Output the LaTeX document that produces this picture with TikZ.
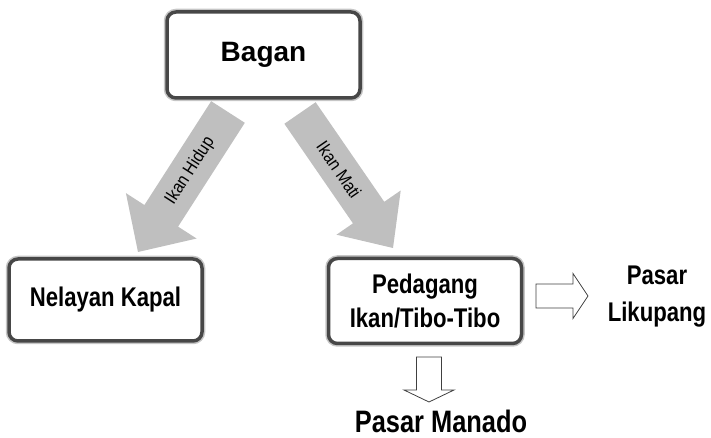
\documentclass[tikz,border=0pt]{standalone}
\usepackage{fontspec}
\setmainfont{Liberation Sans}
\newfontfamily\narrowfont[FakeStretch=0.82]{Liberation Sans}
\newfontfamily\labelfont[FakeStretch=0.88]{Liberation Sans}
\usetikzlibrary{calc}

\tikzset{x=1pt, y=1pt}
\tikzset{
  box/.style={draw=black!72, line width=3.5pt, rounded corners=9pt, fill=white,
    preaction={draw=gray!45, line width=6.5pt},
    minimum width=193pt, minimum height=82pt, inner sep=0pt, align=center,
    font=\narrowfont\bfseries\fontsize{27}{34}\selectfont},
  market/.style={align=center, inner sep=0pt,
    font=\narrowfont\bfseries\fontsize{27}{37}\selectfont},
  bigarrow/.style={fill=black!25},
  smallarrow/.style={draw=black!75, line width=0.8pt, fill=white},
  arrowlabel/.style={inner sep=0pt, font=\labelfont\fontsize{18}{20}\selectfont}
}

% block arrow: [style]{tail}{tip}{shaft}{head width}{head length}
\newcommand{\blockarrow}[6][]{%
  \path[#1] let \p1=($(#3)-(#2)$), \n1={atan2(\y1,\x1)}, \n2={veclen(\x1,\y1)} in
    ($(#2)+(\n1+90:#4/2)$) -- ++(\n1:\n2-#6) -- ++(\n1+90:#5/2-#4/2) -- (#3)
    -- ($(#3)+(\n1+180:#6)+(\n1-90:#5/2)$) -- ++(\n1+90:#5/2-#4/2)
    -- ++(\n1+180:\n2-#6) -- cycle;
}

\begin{document}
\begin{tikzpicture}
\useasboundingbox (0,0) rectangle (711,438);
% boxes
\node[box, minimum height=86pt, font=\bfseries\fontsize{28}{34}\selectfont] (bagan) at (263.5,383) {Bagan};
\node[box] (nelayan) at (105.5,138) {Nelayan Kapal};
\node[box, minimum height=85pt] (pedagang) at (425,137) {Pedagang\\Ikan/Tibo-Tibo};
\node[market] (likupang) at (657,141.5) {Pasar\\Likupang};
\node[market, anchor=base, font=\narrowfont\bfseries\fontsize{31}{37}\selectfont] (manado) at (441,5) {Pasar Manado};
% connectors
\coordinate (hidupTail) at (228,326);
\coordinate (hidupTip) at (138,186);
\coordinate (matiTail) at (300,325);
\coordinate (matiTip) at (393,190);
\coordinate (likuTail) at (536,142);
\coordinate (likuTip) at (588,142);
\coordinate (manadoTail) at (429,81);
\coordinate (manadoTip) at (429,36);
\blockarrow[bigarrow]{hidupTail}{hidupTip}{40}{84}{43}
\blockarrow[bigarrow]{matiTail}{matiTip}{38}{78}{43}
\path (hidupTail) -- (hidupTip) node[arrowlabel, pos=0.42, sloped] (hidup) {Ikan Hidup};
\path (matiTail) -- (matiTip) node[arrowlabel, pos=0.42, sloped] (mati) {Ikan Mati};
\blockarrow[smallarrow]{likuTail}{likuTip}{24}{45}{15}
\blockarrow[smallarrow]{manadoTail}{manadoTip}{25}{50}{12}
\end{tikzpicture}
\end{document}
